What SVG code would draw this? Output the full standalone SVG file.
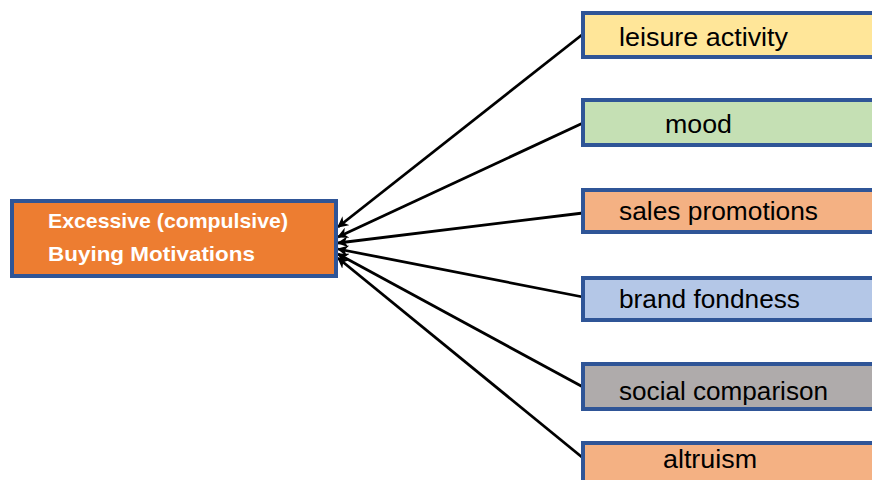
<svg xmlns="http://www.w3.org/2000/svg" width="872" height="480" viewBox="0 0 872 480">
<defs>
<marker id="arr" viewBox="0 0 10 10" refX="9" refY="5" markerWidth="4" markerHeight="4" orient="auto" markerUnits="strokeWidth">
<path d="M0,0 L10,5 L0,10 L3,5 z" fill="#000"/>
</marker>
<style>
.box{stroke:#2F5597;stroke-width:4}
.lbl{font-family:"Liberation Sans","Open Sans",Arial,sans-serif;font-size:25px;fill:#000}
.main{font-family:"Liberation Sans","Open Sans",Arial,sans-serif;font-size:21px;font-weight:bold;fill:#fff}
.con{stroke:#000;stroke-width:2.8;fill:none;marker-end:url(#arr)}
</style>
</defs>
<rect width="872" height="480" fill="#fff"/>
<g id="connectors">
<line class="con" x1="583" y1="34" x2="338" y2="227"/>
<line class="con" x1="583" y1="123" x2="338" y2="237"/>
<line class="con" x1="583" y1="213" x2="338" y2="243"/>
<line class="con" x1="583" y1="297" x2="338" y2="249"/>
<line class="con" x1="583" y1="387" x2="338" y2="254"/>
<line class="con" x1="583" y1="458" x2="338" y2="258"/>
</g>
<g id="main">
<rect class="box" x="12" y="201" width="324" height="75" fill="#ED7D31"/>
<text class="main" x="48" y="228" textLength="240" lengthAdjust="spacingAndGlyphs">Excessive (compulsive)</text>
<text class="main" x="48" y="261" textLength="207" lengthAdjust="spacingAndGlyphs">Buying Motivations</text>
</g>
<g id="leisure">
<rect class="box" x="583" y="13" width="300" height="44" fill="#FFE699"/>
<text class="lbl" x="619" y="46" textLength="169" lengthAdjust="spacingAndGlyphs">leisure activity</text>
</g>
<g id="mood">
<rect class="box" x="583" y="100" width="300" height="45" fill="#C5E0B4"/>
<text class="lbl" x="665" y="133" textLength="67" lengthAdjust="spacingAndGlyphs">mood</text>
</g>
<g id="sales">
<rect class="box" x="583" y="190" width="300" height="42" fill="#F4B183"/>
<text class="lbl" x="619" y="220" textLength="199" lengthAdjust="spacingAndGlyphs">sales promotions</text>
</g>
<g id="brand">
<rect class="box" x="583" y="278" width="300" height="42" fill="#B4C7E7"/>
<text class="lbl" x="619" y="308" textLength="181" lengthAdjust="spacingAndGlyphs">brand fondness</text>
</g>
<g id="social">
<rect class="box" x="583" y="364" width="300" height="45" fill="#AFABAB"/>
<text class="lbl" x="619" y="400" textLength="209" lengthAdjust="spacingAndGlyphs">social comparison</text>
</g>
<g id="altruism">
<rect class="box" x="583" y="443" width="300" height="50" fill="#F4B183"/>
<text class="lbl" x="663" y="468" textLength="94" lengthAdjust="spacingAndGlyphs">altruism</text>
</g>
</svg>
